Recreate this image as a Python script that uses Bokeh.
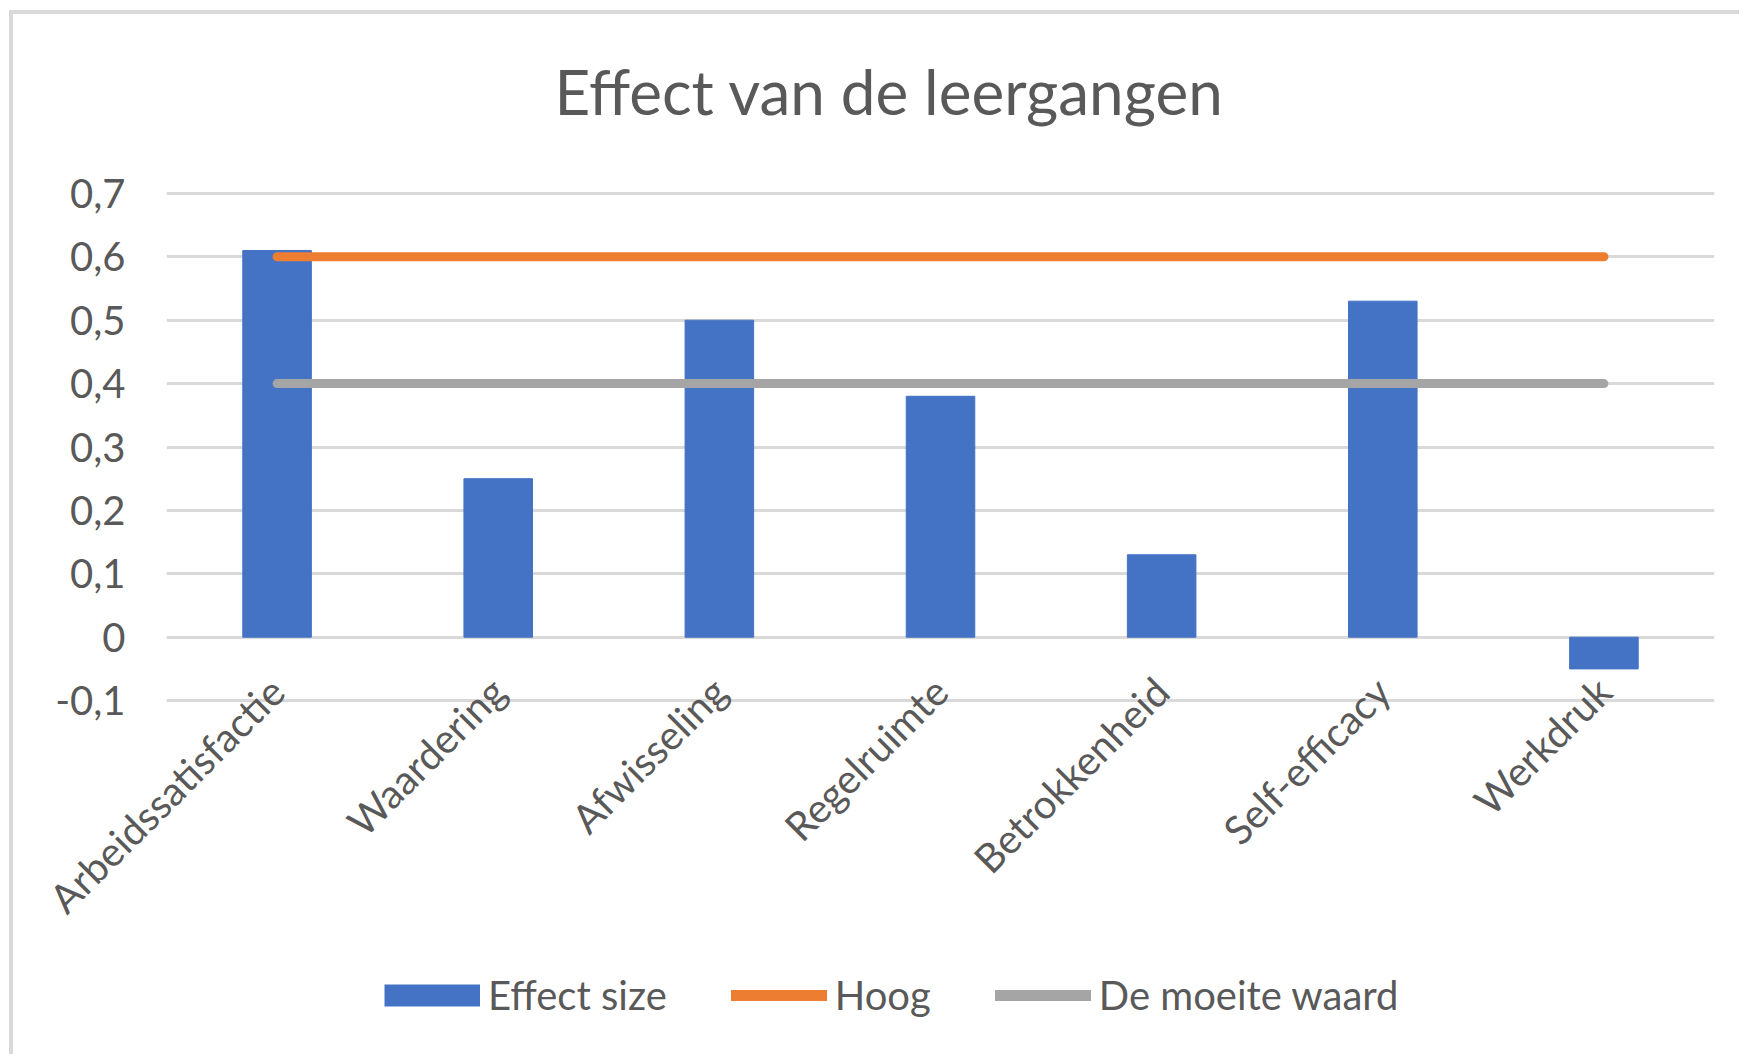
from bokeh.plotting import figure
from bokeh.models import FactorRange, Range1d, FixedTicker, Legend, LegendItem, Title
from bokeh.layouts import column
from bokeh.embed import file_html
from bokeh.resources import INLINE
from math import pi

categories = ["Arbeidssatisfactie", "Waardering", "Afwisseling", "Regelruimte",
              "Betrokkenheid", "Self-efficacy", "Werkdruk"]
effect_size = [0.61, 0.25, 0.50, 0.38, 0.13, 0.53, -0.05]
hoog = [0.6, 0.6, 0.6, 0.6, 0.6, 0.6, 0.6]
moeite_waard = [0.4, 0.4, 0.4, 0.4, 0.4, 0.4, 0.4]
y_ticks = [-0.1, 0, 0.1, 0.2, 0.3, 0.4, 0.5, 0.6, 0.7]
y_tick_labels = ["-0,1", "0", "0,1", "0,2", "0,3", "0,4", "0,5", "0,6", "0,7"]
title_text = "Effect van de leergangen"
series_names = ["Effect size", "Hoog", "De moeite waard"]

FONT = "Lato"
TXT = "#595959"
BLUE = "#4472C4"
ORANGE = "#ED7D31"
GREY = "#A5A5A5"
W = 1739
H_TITLE = 161
TOP_PAD = 30
H_MAIN = 809
H_LEG = 84
NAN = float("nan")


def strip(height, top=0):
    f = figure(width=W, height=height, x_range=Range1d(0, 1), y_range=Range1d(0, 1),
               output_backend="svg", toolbar_location=None,
               min_border_left=0, min_border_right=0,
               min_border_top=top, min_border_bottom=0)
    f.axis.visible = False
    f.grid.visible = False
    f.outline_line_color = None
    f.background_fill_alpha = 0
    f.border_fill_alpha = 0
    return f


# title strip
t = strip(H_TITLE, top=154)
t.title = Title(text=title_text, align="left", offset=388, standoff=54,
                text_font=FONT, text_font_size="62px", text_color=TXT,
                text_font_style="normal")

# main chart
p = figure(width=W, height=H_MAIN, title=None,
           x_range=FactorRange(*categories, range_padding=0),
           y_range=Range1d(-0.103, 0.703),
           output_backend="svg", toolbar_location=None,
           min_border_left=166, min_border_right=25,
           min_border_top=TOP_PAD, min_border_bottom=H_MAIN - TOP_PAD - 511)
p.outline_line_color = None
p.background_fill_color = "white"
p.border_fill_alpha = 0

p.xgrid.grid_line_color = None
p.ygrid.ticker = FixedTicker(ticks=y_ticks)
p.ygrid.grid_line_color = "#D9D9D9"
p.ygrid.grid_line_width = 3

p.yaxis.ticker = FixedTicker(ticks=y_ticks)
p.yaxis.major_label_overrides = dict(zip(y_ticks, y_tick_labels))
p.yaxis.axis_line_color = None
p.yaxis.major_tick_line_color = None
p.yaxis.minor_tick_line_color = None
p.yaxis.major_tick_out = 0
p.yaxis.major_tick_in = 0
p.yaxis.major_label_standoff = 41
p.yaxis.major_label_text_font = FONT
p.yaxis.major_label_text_font_size = "40px"
p.yaxis.major_label_text_color = TXT

p.xaxis.axis_line_color = None
p.xaxis.major_tick_line_color = None
p.xaxis.major_tick_out = 0
p.xaxis.major_tick_in = 0
p.xaxis.major_label_orientation = pi / 4
p.xaxis.major_label_standoff = -18
p.xaxis.major_label_text_font = FONT
p.xaxis.major_label_text_font_size = "40px"
p.xaxis.major_label_text_color = TXT

bars = p.vbar(x=categories, top=effect_size, bottom=0, width=0.31,
              fill_color=BLUE, line_color=BLUE)
l_hoog = p.line(x=categories, y=hoog, line_width=9, line_cap="round",
                line_color=ORANGE)
l_moeite = p.line(x=categories, y=moeite_waard, line_width=9, line_cap="round",
                  line_color=GREY)

# legend strip (separate small figure so the legend is not clipped by the frame)
q = strip(H_LEG)
# legend keys only (NaN data: nothing drawn in the strip itself)
k_bar = q.line(x=[NAN], y=[NAN], line_width=22, line_cap="butt", line_color=BLUE)
k_hoog = q.line(x=[NAN], y=[NAN], line_width=11, line_cap="round", line_color=ORANGE)
k_moeite = q.line(x=[NAN], y=[NAN], line_width=11, line_cap="round", line_color=GREY)

legend = Legend(items=[LegendItem(label=series_names[0], renderers=[k_bar]),
                       LegendItem(label=series_names[1], renderers=[k_hoog]),
                       LegendItem(label=series_names[2], renderers=[k_moeite])],
                location=(218, 35), orientation="horizontal",
                glyph_width=96, glyph_height=28, label_standoff=8,
                padding=0, margin=0, spacing=64,
                label_text_font=FONT, label_text_font_size="40px",
                label_text_color=TXT,
                border_line_color=None, background_fill_alpha=0)
q.add_layout(legend)

layout = column(t, p, q, spacing=0)
layout.styles = {
    "background": ("linear-gradient(#D9D9D9,#D9D9D9) 9px 10px / 4px 100% no-repeat, "
                   "linear-gradient(#D9D9D9,#D9D9D9) 9px 10px / 100% 4px no-repeat, white"),
}

open("out.html", "w").write(file_html(layout, INLINE))
